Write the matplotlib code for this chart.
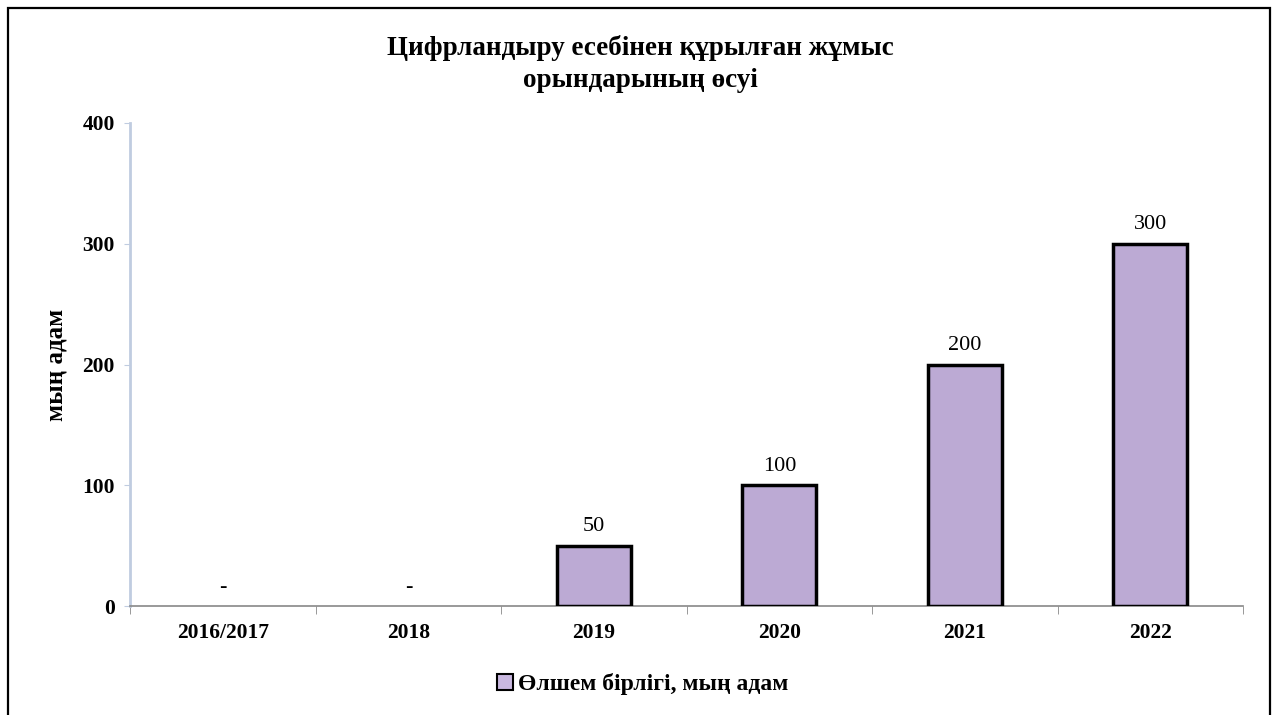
import numpy as np
import matplotlib.pyplot as plt
from matplotlib.patches import Rectangle

plt.rcParams['font.family'] = ['Liberation Serif', 'DejaVu Serif']

# data
years = ['2016/2017', '2018', '2019', '2020', '2021', '2022']
jobs = [0, 0, 50, 100, 200, 300]  # мың адам
series_name = 'Өлшем бірлігі, мың адам'

fig = plt.figure(figsize=(12.75, 7.15), dpi=100)
ax = fig.add_axes([0.102, 0.152, 0.873, 0.676])

x = np.arange(len(years))
bars = ax.bar(x, jobs, width=0.4, color='#bcaad4', edgecolor='black',
              linewidth=2.5, zorder=3)
# empty years have no visible bar
for b, v in zip(bars, jobs):
    if v == 0:
        b.set_linewidth(0)

# value labels, "-" for zero
for xi, v in zip(x, jobs):
    txt = '-' if v == 0 else str(v)
    ax.text(xi, v + 8, txt, ha='center', va='bottom', fontsize=16)

ax.set_xlim(-0.5, len(years) - 0.5)
ax.set_ylim(0, 400)
ax.set_yticks([0, 100, 200, 300, 400])
ax.set_xticks(x)
ax.set_xticklabels(years, fontsize=15.5, fontweight='bold')
for lab in ax.get_yticklabels():
    lab.set_fontsize(15.5)
    lab.set_fontweight('bold')

# tick marks between categories on the x axis
ax.set_xticks(np.arange(-0.5, len(years)), minor=True)
ax.tick_params(axis='x', which='major', length=0, pad=12)
ax.tick_params(axis='x', which='minor', length=6, color='#888888')
ax.tick_params(axis='y', length=4, color='#c0cce0', pad=7)

for s in ['top', 'right']:
    ax.spines[s].set_visible(False)
ax.spines['left'].set_color('#c0cce0')
ax.spines['left'].set_linewidth(2)
ax.spines['bottom'].set_color('#888888')
ax.spines['bottom'].set_linewidth(1.2)

ax.set_ylabel('мың адам', fontsize=18, fontweight='bold')
ax.yaxis.set_label_coords(-0.056, 0.5)

fig.text(0.502, 0.923, 'Цифрландыру есебінен құрылған жұмыс',
         ha='center', va='baseline', fontsize=19.5, fontweight='bold')
fig.text(0.502, 0.878, 'орындарының өсуі',
         ha='center', va='baseline', fontsize=19.5, fontweight='bold')

handle = Rectangle((0, 0), 1, 1, facecolor='#c9b8e0', edgecolor='black', linewidth=1.5)
leg = fig.legend(handles=[handle], labels=[series_name], loc='center',
                 bbox_to_anchor=(0.504, 0.043), frameon=False,
                 prop={'size': 17, 'weight': 'bold'},
                 handlelength=0.7, handleheight=0.7, handletextpad=0.2)

# outer border
fig.add_artist(Rectangle((0.0063, -0.01), 0.9898, 0.9988, transform=fig.transFigure,
                         fill=False, edgecolor='black', linewidth=1.6))

fig.savefig('out.png', dpi=100)
